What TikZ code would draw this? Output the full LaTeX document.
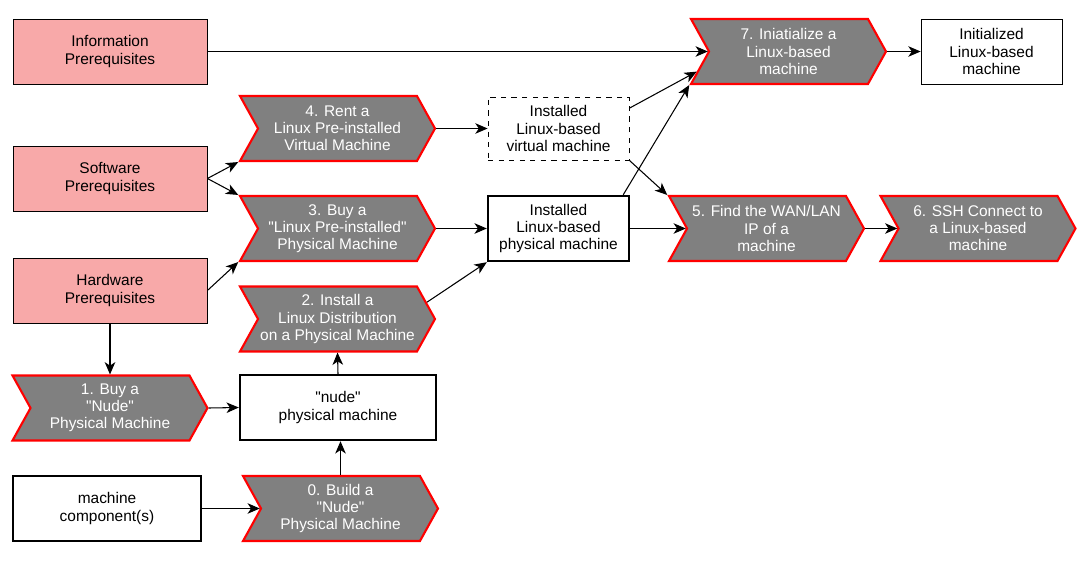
\documentclass[tikz,border=0pt]{standalone}
\usepackage{fontspec}
\setmainfont{Liberation Sans}
\usetikzlibrary{shapes.symbols,arrows.meta,calc}
\definecolor{pinkfill}{HTML}{F8A9A9}
\definecolor{stepgray}{HTML}{808080}
\newcommand{\dq}{\textquotedbl}

\begin{document}
\begin{tikzpicture}[x=0.02cm,y=-0.02cm,
  every node/.style={font=\fontsize{8.8}{9.7}\selectfont, align=center},
  prereq/.style={draw=black, line width=0.5pt, fill=pinkfill,
    minimum width=3.88cm, minimum height=1.3cm},
  chevron/.style={signal, signal from=west, signal to=east,
    signal pointer angle=122, draw=red, line width=1.2pt, fill=stepgray,
    text=white, minimum width=3.9cm, minimum height=1.3cm, inner sep=1pt},
  state/.style={draw=black, line width=0.5pt, fill=white, minimum height=1.3cm},
  thickstate/.style={state, line width=1.4pt},
  arr/.style={-{Stealth[length=7pt,width=6pt,inset=2pt]}, line width=0.6pt}]
  \useasboundingbox (0,0) rectangle (1087,561);

  % prerequisites
  \node[prereq] (info) at (110,51.5) {Information\\Prerequisites};
  \node[prereq] (soft) at (110,178.5) {Software\\Prerequisites};
  \node[prereq] (hard) at (110,290.5) {Hardware\\Prerequisites};
  \node[thickstate, minimum width=3.76cm] (comp) at (107,508.5) {machine\\component(s)};

  % steps and states
  \node[chevron] (buy) at (110,408) {1. Buy a\\\dq Nude\dq\\Physical Machine};
  \node[chevron] (build) at (340.5,508.5) {0. Build a\\\dq Nude\dq\\Physical Machine};
  \node[thickstate, minimum width=3.92cm] (nude) at (338,407.5) {\dq nude\dq\\physical machine};
  \node[chevron] (install) at (337.5,319) {2. Install a\\Linux Distribution\\on a Physical Machine};
  \node[chevron] (buylinux) at (337.5,228.5) {3. Buy a\\\dq Linux Pre-installed\dq\\Physical Machine};
  \node[chevron] (rent) at (337.5,128.5) {4. Rent a\\Linux Pre-installed\\Virtual Machine};
  \node[state, dashed, minimum width=2.82cm, minimum height=1.26cm] (virt) at (558.5,128.5) {Installed\\Linux-based\\virtual machine};
  \node[thickstate, minimum width=2.82cm] (phys) at (558.5,228.5) {Installed\\Linux-based\\physical machine};
  \node[chevron] (init) at (788.5,51.5) {7. Iniatialize a\\Linux-based\\machine};
  \node[state, minimum width=2.82cm] (done) at (991.5,51.5) {Initialized\\Linux-based\\machine};
  \node[chevron] (findip) at (766.5,228.5) {5. Find the WAN/LAN\\IP of a\\machine};
  \node[chevron] (ssh) at (978,228.5) {6. SSH Connect to\\a Linux-based\\machine};

  \draw[arr] (info.east) -- (init.west);
  \draw[arr] (soft.east) -- (rent.south west);
  \draw[arr] (soft.east) -- (buylinux.north west);
  \draw[arr] (hard.east) -- (buylinux.south west);
  \draw[arr] (hard.south) -- (buy.north);
  \draw[arr] (buy.east) -- (nude.west);
  \draw[arr] (comp.east) -- (build.west);
  \draw[arr] (build.north) -- (build.north |- nude.south);
  \draw[arr] (nude.north) -- (install.south);
  \draw[arr] ($(install.north east)!0.5!(install.east)$) -- (phys.south west);
  \draw[arr] (buylinux.east) -- (phys.west);
  \draw[arr] (rent.east) -- (virt.west);
  \draw[arr] (virt.16) -- ($(init.west)!0.6!(init.south west)$);
  \draw[arr] (virt.south east) -- (findip.north west);
  \draw[arr] ([xshift=-0.14cm]phys.north east) -- (init.south west);
  \draw[arr] (phys.east) -- (findip.west);
  \draw[arr] (init.east) -- (done.west);
  \draw[arr] (findip.east) -- (ssh.west);
\end{tikzpicture}
\end{document}
